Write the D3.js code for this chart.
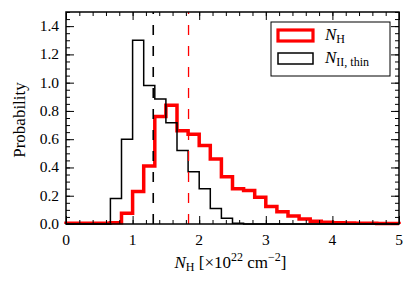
<!DOCTYPE html>
<html>
<head>
<meta charset="utf-8">
<script src="https://cdn.jsdelivr.net/npm/d3@7"></script>
<style>
  body { margin: 0; background: #fff; }
  text { font-family: "Liberation Serif", "DejaVu Serif", serif; }
</style>
</head>
<body>
<script>
// histogram bins: 30 bins of width 1/6 over 0..5
var binEdges = d3.range(31).map(i => i * 5 / 30);
var nhValues = [0.005, 0.005, 0.005, 0.006, 0.008, 0.076, 0.23, 0.41, 0.76, 0.84,
                0.66, 0.635, 0.555, 0.46, 0.335, 0.25, 0.237, 0.19, 0.123, 0.087,
                0.057, 0.036, 0.019, 0.012, 0.009, 0.007, 0.006, 0.005, 0.004, 0.004];
var thinValues = [0, 0, 0, 0, 0.18, 0.60, 1.30, 0.98, 0.885, 0.716,
                  0.52, 0.37, 0.25, 0.11, 0.04, 0.005, 0, 0, 0, 0,
                  0, 0, 0, 0, 0, 0, 0, 0, 0, 0];
// medians (dashed lines)
var nhMedian = 1.84;
var thinMedian = 1.31;
var xTicks = [0, 1, 2, 3, 4, 5];
var yTicks = [0.0, 0.2, 0.4, 0.6, 0.8, 1.0, 1.2, 1.4];

var svg_Width = 416;
var svg_Height = 285;
var svg_margin = { top: 12, right: 17, bottom: 61, left: 66 };
var width = svg_Width - svg_margin.left - svg_margin.right;
var height = svg_Height - svg_margin.top - svg_margin.bottom;

var svg = d3.select("body").append("svg")
  .attr("width", svg_Width)
  .attr("height", svg_Height);

var g = svg.append("g")
  .attr("transform", `translate(${svg_margin.left}, ${svg_margin.top})`);

var x = d3.scaleLinear().domain([0, 5]).range([0, width]);
var y = d3.scaleLinear().domain([0, 1.5]).range([height, 0]);

// step path like matplotlib histtype='step'
function stepPath(vals) {
  var pts = [[binEdges[0], 0]];
  vals.forEach(function (v, i) {
    pts.push([binEdges[i], v]);
    pts.push([binEdges[i + 1], v]);
  });
  pts.push([binEdges[binEdges.length - 1], 0]);
  return d3.line().x(d => x(d[0])).y(d => y(d[1]))(pts);
}

g.append("path")
  .attr("d", stepPath(nhValues))
  .attr("fill", "none")
  .attr("stroke", "#ff0000")
  .attr("stroke-width", 3.5)
  .attr("stroke-linejoin", "miter");

g.append("path")
  .attr("d", stepPath(thinValues))
  .attr("fill", "none")
  .attr("stroke", "#000")
  .attr("stroke-width", 1.5)
  .attr("stroke-linejoin", "miter");

// median lines (drawn bottom-up)
g.append("line")
  .attr("x1", x(thinMedian)).attr("x2", x(thinMedian))
  .attr("y1", y(0)).attr("y2", y(1.5))
  .attr("stroke", "#000").attr("stroke-width", 1.6)
  .attr("stroke-dasharray", "10,11");
g.append("line")
  .attr("x1", x(nhMedian)).attr("x2", x(nhMedian))
  .attr("y1", y(0)).attr("y2", y(1.5))
  .attr("stroke", "#ff0000").attr("stroke-width", 1.3)
  .attr("stroke-dasharray", "10,11");

// axes with inward ticks on all four sides
var xMinor = d3.range(0, 5.001, 0.2);
var yMinor = d3.range(0, 1.501, 0.05);

var axisMakers = [
  [() => d3.axisBottom(x), `translate(0,${height})`, true],
  [() => d3.axisTop(x), "translate(0,0)", true],
  [() => d3.axisLeft(y), "translate(0,0)", false],
  [() => d3.axisRight(y), `translate(${width},0)`, false]
];
axisMakers.forEach(function (a) {
  var isX = a[2];
  [[isX ? xMinor : yMinor, -4], [isX ? xTicks : yTicks, -8]].forEach(function (t) {
    var s = g.append("g").attr("transform", a[1])
      .call(a[0]().tickValues(t[0]).tickSize(t[1]).tickFormat(""));
    s.select(".domain").remove();
    s.selectAll("line").attr("stroke", "#000").attr("stroke-width", 1);
  });
});

// tick labels
g.selectAll(".xlab").data(xTicks).enter().append("text")
  .attr("x", d => x(d)).attr("y", height + 21)
  .attr("text-anchor", "middle").attr("font-size", 15.5)
  .text(d => d);
g.selectAll(".ylab").data(yTicks).enter().append("text")
  .attr("x", -7).attr("y", d => y(d) + 5)
  .attr("text-anchor", "end").attr("font-size", 15.5)
  .text(d => d.toFixed(1));

// frame
g.append("rect")
  .attr("width", width).attr("height", height)
  .attr("fill", "none").attr("stroke", "#000").attr("stroke-width", 1.5);

// axis labels
var xl = g.append("text")
  .attr("x", width / 2 - 2).attr("y", height + 44)
  .attr("text-anchor", "middle").attr("font-size", 17);
xl.append("tspan").attr("font-style", "italic").text("N");
xl.append("tspan").attr("font-size", 12).attr("dy", 3).text("H");
xl.append("tspan").attr("dy", -3).text(" [×10");
xl.append("tspan").attr("font-size", 12).attr("dy", -7).text("22");
xl.append("tspan").attr("dy", 7).text(" cm");
xl.append("tspan").attr("font-size", 12).attr("dy", -7).text("−2");
xl.append("tspan").attr("dy", 7).text("]");

svg.append("text")
  .attr("transform", `translate(25, ${svg_margin.top + height / 2 + 2}) rotate(-90)`)
  .attr("text-anchor", "middle").attr("font-size", 17)
  .text("Probability");

// legend
var lg = svg.append("g");
lg.append("rect")
  .attr("x", 271).attr("y", 22).attr("width", 119).attr("height", 54)
  .attr("fill", "#fff").attr("stroke", "#000").attr("stroke-width", 1);
lg.append("rect")
  .attr("x", 278).attr("y", 30).attr("width", 35).attr("height", 11)
  .attr("fill", "#fff").attr("stroke", "#ff0000").attr("stroke-width", 3.2);
lg.append("rect")
  .attr("x", 278).attr("y", 53).attr("width", 35).attr("height", 11)
  .attr("fill", "#fff").attr("stroke", "#000").attr("stroke-width", 1.5);

var t1 = lg.append("text").attr("x", 325).attr("y", 40).attr("font-size", 17);
t1.append("tspan").attr("font-style", "italic").text("N");
t1.append("tspan").attr("font-size", 12).attr("dy", 3).text("H");
var t2 = lg.append("text").attr("x", 325).attr("y", 63).attr("font-size", 17);
t2.append("tspan").attr("font-style", "italic").text("N");
t2.append("tspan").attr("font-size", 12).attr("dy", 3).text("II, thin");
</script>
</body>
</html>
